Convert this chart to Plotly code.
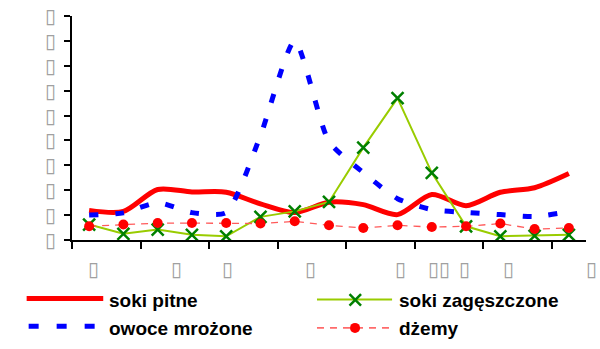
import plotly.graph_objects as go

# ---- data ----
categories = list(range(15))  # 15 category slots (labels unreadable in original)
soki_pitne = [1.19, 1.15, 2.03, 1.93, 1.92, 1.45, 1.10, 1.52, 1.42, 1.02, 1.83, 1.38, 1.92, 2.10, 2.67]
soki_zageszczone = [0.62, 0.25, 0.42, 0.21, 0.15, 0.93, 1.15, 1.53, 3.71, 5.70, 2.70, 0.55, 0.15, 0.17, 0.21]
owoce_mrozone = [1.00, 1.09, 1.50, 1.10, 1.10, 4.20, 8.00, 3.95, 2.71, 1.66, 1.22, 1.11, 1.02, 0.94, 1.14]
dzemy = [0.55, 0.62, 0.68, 0.68, 0.68, 0.66, 0.75, 0.59, 0.48, 0.59, 0.52, 0.55, 0.66, 0.44, 0.48]

y_tick_values = list(range(10))
y_tick_labels = ["\u25af"] * 10
x_tick_marks = [-0.5, 1.5, 3.5, 5.5, 7.5, 9.5, 11.5, 13.5]
x_label_texts = ["\u25af", "\u25af", "\u25af", "\u25af", "\u25af", "\u25af\u25af", "\u25af", "\u25af", "\u25af"]
x_label_pos = [0.12, 2.56, 4.03, 6.46, 9.10, 10.20, 10.95, 12.24, 14.66]

legend_names = ["soki pitne", "soki zagęszczone", "owoce mrożone", "dżemy"]

# ---- layout geometry (body margin removed by post_script, so figure = page) ----
OFF = 0
W, H = 600, 349
PLOT_X0, PLOT_X1, PLOT_Y0, PLOT_Y1 = 72.3, 585.7, 16.0, 240.3  # page pixels
L = PLOT_X0 - OFF
T = PLOT_Y0 - OFF
R = W - (PLOT_X1 - OFF)
B = H - (PLOT_Y1 - OFF)
PW, PH = PLOT_X1 - PLOT_X0, PLOT_Y1 - PLOT_Y0
N = len(categories)
Y_MAX = 9


def px(x):
    return (x - PLOT_X0) / PW


def py(y):
    return (PLOT_Y1 - y) / PH


fig = go.Figure()
fig.add_trace(go.Scatter(x=categories, y=soki_pitne, mode="lines", name=legend_names[0],
                         line=dict(color="#ff0000", width=5, shape="spline", smoothing=0.8)))
fig.add_trace(go.Scatter(x=categories, y=soki_zageszczone, mode="lines+markers", name=legend_names[1],
                         line=dict(color="#99cc00", width=2),
                         marker=dict(symbol="x-thin", size=12, line=dict(width=2.5, color="#008000"))))
fig.add_trace(go.Scatter(x=categories, y=owoce_mrozone, mode="lines", name=legend_names[2],
                         line=dict(color="#0000ff", width=5, dash="9px,17px", shape="spline", smoothing=0.6)))
fig.add_trace(go.Scatter(x=categories, y=dzemy, mode="lines+markers", name=legend_names[3],
                         line=dict(color="#ff5a5a", width=1.3, dash="7px,6px"),
                         marker=dict(symbol="circle", size=10, color="#ff0000")))

shapes = []
annotations = []
# custom legend
font_leg = dict(family="Liberation Sans, Arial, sans-serif", size=19, color="#000000", weight="bold")
shapes.append(dict(type="line", xref="paper", yref="paper", x0=px(27), x1=px(103.5), y0=py(299), y1=py(299),
                   line=dict(color="#ff0000", width=5)))
shapes.append(dict(type="line", xref="paper", yref="paper", x0=px(29), x1=px(97), y0=py(326.7), y1=py(326.7),
                   line=dict(color="#0000ff", width=5, dash="10px,18px")))
shapes.append(dict(type="line", xref="paper", yref="paper", x0=px(317), x1=px(392), y0=py(300), y1=py(300),
                   line=dict(color="#99cc00", width=2)))
shapes.append(dict(type="line", xref="paper", yref="paper", x0=px(349.5), x1=px(361), y0=py(294.5), y1=py(306),
                   line=dict(color="#008000", width=2.5)))
shapes.append(dict(type="line", xref="paper", yref="paper", x0=px(349.5), x1=px(361), y0=py(306), y1=py(294.5),
                   line=dict(color="#008000", width=2.5)))
shapes.append(dict(type="line", xref="paper", yref="paper", x0=px(317), x1=px(392), y0=py(328.3), y1=py(328.3),
                   line=dict(color="#ff6b6b", width=1.8, dash="7px,6px")))
shapes.append(dict(type="circle", xref="paper", yref="paper", x0=px(350), x1=px(360), y0=py(323.3), y1=py(333.3),
                   fillcolor="#ff0000", line=dict(width=0)))

for name, (x, y) in zip(legend_names, [(107, 301), (397, 301), (107, 328.5), (397, 328.5)]):
    annotations.append(dict(text=name, xref="paper", yref="paper", x=px(x), y=py(y), xanchor="left",
                            yanchor="middle", showarrow=False, font=font_leg))

box_font = dict(family="DejaVu Sans", size=20, color="#a0a0a0")
# category-axis labels (glyphs missing in the original, shown as boxes)
for t, c in zip(x_label_texts, x_label_pos):
    annotations.append(dict(text=t, xref="paper", yref="paper", x=(c + 0.5) / N, y=py(269), xanchor="center",
                            yanchor="middle", showarrow=False, font=box_font))
# value-axis labels
for t, v in zip(y_tick_labels, y_tick_values):
    annotations.append(dict(text=t, xref="paper", yref="paper", x=px(58.8), y=v / Y_MAX, xanchor="right",
                            yanchor="middle", showarrow=False, font=box_font))

fig.update_layout(
    width=W, height=H,
    margin=dict(l=L, r=R, t=T, b=B, pad=0),
    paper_bgcolor="white", plot_bgcolor="white",
    showlegend=False,
    shapes=shapes, annotations=annotations,
    xaxis=dict(range=[-0.5, N - 0.5], showgrid=False, zeroline=False, showline=True, linecolor="black", linewidth=2,
               tickmode="array", tickvals=x_tick_marks, ticktext=[""] * len(x_tick_marks),
               ticks="outside", ticklen=7, tickwidth=2, tickcolor="black"),
    yaxis=dict(range=[0, Y_MAX], showgrid=False, zeroline=False, showline=True, linecolor="black", linewidth=2,
               tickmode="array", tickvals=y_tick_values, ticktext=[""] * len(y_tick_values),
               ticks="outside", ticklen=6, tickwidth=2, tickcolor="black"),
)

fig.write_html("out.html", config={"displayModeBar": False},
               post_script="document.body.style.margin='0';")
